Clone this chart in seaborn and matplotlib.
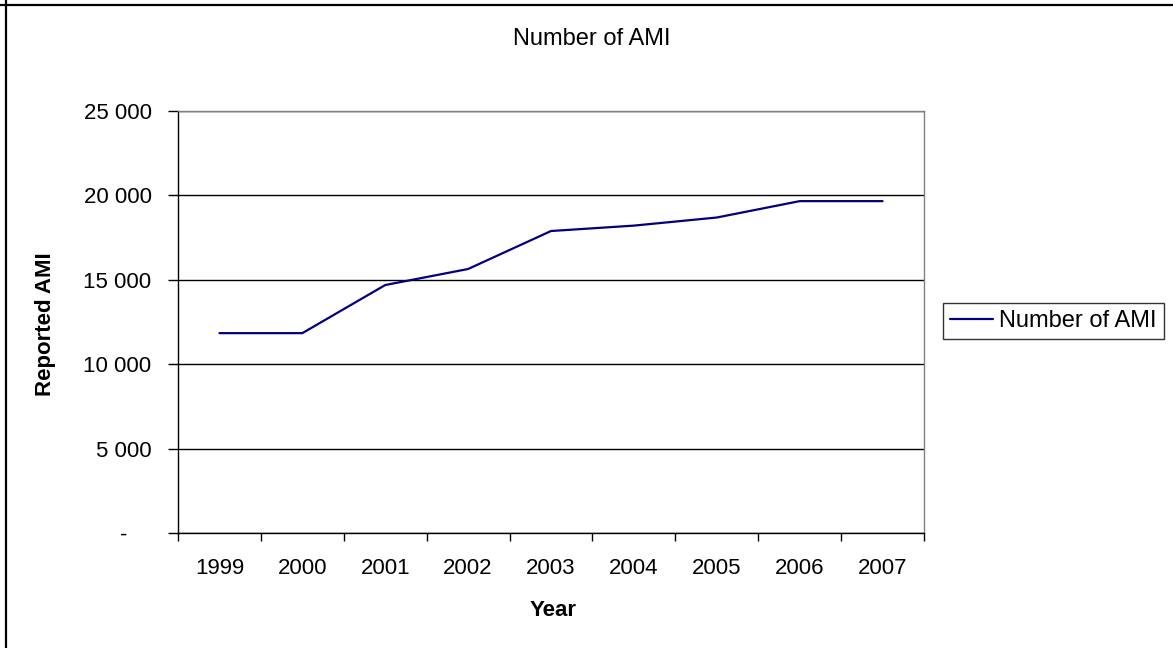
import matplotlib
matplotlib.use("Agg")
import matplotlib.pyplot as plt
from matplotlib.lines import Line2D
import seaborn as sns
import pandas as pd
import numpy as np

# Reported acute myocardial infarctions per year
years = ["1999", "2000", "2001", "2002", "2003", "2004", "2005", "2006", "2007"]
ami_counts = [11840, 11840, 14690, 15640, 17890, 18210, 18690, 19660, 19660]
y_ticks = [0, 5000, 10000, 15000, 20000, 25000]
y_tick_labels = ["-    ", "5 000", "10 000", "15 000", "20 000", "25 000"]
series_name = "Number of AMI"

sns.set_theme(style="white")
plt.rcParams["font.family"] = ["Liberation Sans", "DejaVu Sans"]
plt.rcParams["text.color"] = "black"
plt.rcParams["axes.labelcolor"] = "black"
plt.rcParams["xtick.color"] = "black"
plt.rcParams["ytick.color"] = "black"

FS = 16
W, H = 1173, 648
fig = plt.figure(figsize=(W / 100, H / 100), dpi=100)
fig.patch.set_facecolor("white")

left, right, top, bottom = 178, 924, 111, 533
ax = fig.add_axes([left / W, 1 - bottom / H, (right - left) / W, (bottom - top) / H])

df = pd.DataFrame({"pos": np.arange(len(years)), "count": ami_counts, "series": series_name})
sns.lineplot(data=df, x="pos", y="count", hue="series", palette=["#000080"],
             linewidth=1.6, ax=ax, legend=False)

ax.set_xlim(-0.5, len(years) - 0.5)
ax.set_ylim(0, 25000)

# Category labels sit between boundary tick marks
ax.set_xticks(np.arange(len(years)))
ax.set_xticklabels(years, fontsize=FS)
ax.set_xticks(np.arange(-0.5, len(years)), minor=True)
ax.tick_params(axis="x", which="major", length=0, pad=18, colors="black")
ax.tick_params(axis="x", which="minor", length=6, width=1, direction="out", color="black", bottom=True)

ax.set_yticks(y_ticks)
ax.set_yticklabels(y_tick_labels, fontsize=FS)
ax.tick_params(axis="y", which="major", length=7, width=1, direction="out", color="black", left=True, pad=12)

ax.grid(axis="y", color="black", linewidth=1)
ax.grid(axis="x", visible=False)
ax.set_axisbelow(True)

for side in ["top", "right"]:
    ax.spines[side].set_color("#808080")
    ax.spines[side].set_linewidth(1)
for side in ["left", "bottom"]:
    ax.spines[side].set_color("black")
    ax.spines[side].set_linewidth(1)

ax.set_xlabel("")
ax.set_ylabel("")
fig.text(553 / W, 1 - 610 / H, "Year", ha="center", va="center", fontsize=FS, fontweight="bold")
fig.text(45.5 / W, 1 - 324 / H, "Reported AMI", ha="center", va="center", rotation=90,
         fontsize=FS, fontweight="bold")
fig.text(592 / W, 1 - 39 / H, "Number of AMI", ha="center", va="center", fontsize=17)

handle = Line2D([0], [0], color="#000080", linewidth=1.6)
leg = fig.legend([handle], [series_name], loc="center left",
                 bbox_to_anchor=(943 / W, 1 - 321 / H), fontsize=17,
                 frameon=True, fancybox=False, handlelength=1.8,
                 handletextpad=0.28, borderpad=0.3, borderaxespad=0)
leg.get_frame().set_edgecolor("black")
leg.get_frame().set_linewidth(1)

# Chart frame edges along the top and left
fig.add_artist(Line2D([0, 1], [1 - 5 / H, 1 - 5 / H], transform=fig.transFigure, color="black", linewidth=1.6))
fig.add_artist(Line2D([6 / W, 6 / W], [0, 1], transform=fig.transFigure, color="black", linewidth=1.6))

fig.savefig("out.png", dpi=100)
